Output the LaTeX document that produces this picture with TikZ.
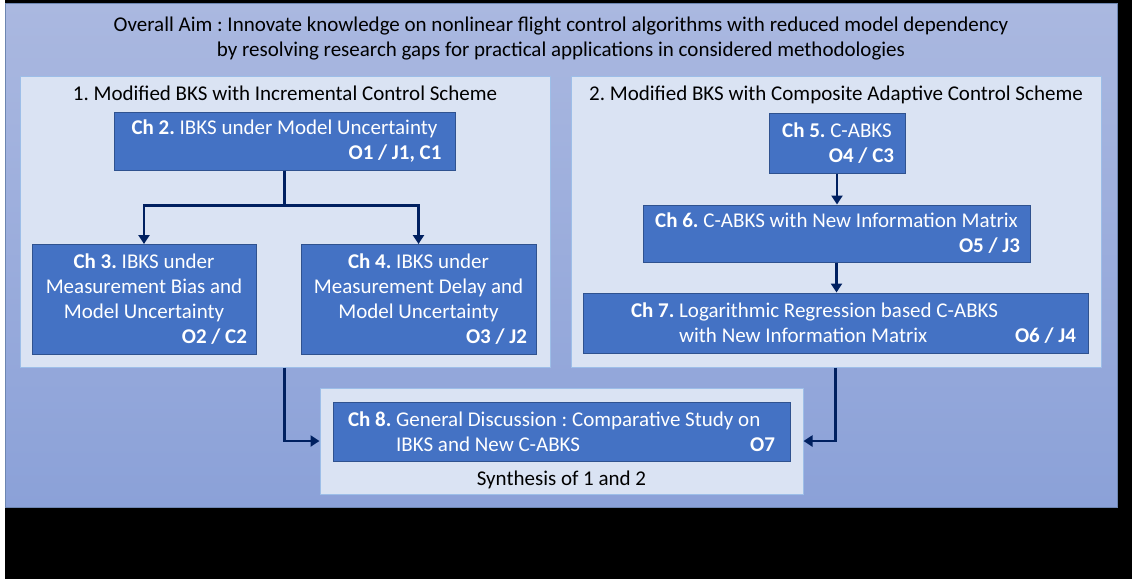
\documentclass[tikz,border=0pt]{standalone}
\usepackage{fontspec}
\setmainfont{Carlito}
\usepackage{tikz}
\usetikzlibrary{arrows.meta,positioning}
\definecolor{panelTop}{RGB}{170,184,224}
\definecolor{panelBot}{RGB}{139,161,216}
\definecolor{paleBox}{RGB}{218,227,243}
\definecolor{paleEdge}{RGB}{157,190,232}
\definecolor{chFill}{RGB}{68,114,196}
\definecolor{chEdge}{RGB}{47,82,143}
\definecolor{navy}{RGB}{0,32,96}
\newcommand{\chno}[1]{\textbf{Ch #1.}}
\newcommand{\code}[2]{\makebox[#1][r]{\textbf{#2}}}
\frenchspacing

\begin{document}
\begin{tikzpicture}[x=1pt,y=-1pt,
    nodes={font=\fontsize{21}{25}\selectfont},
    group/.style={draw=paleEdge,fill=paleBox,line width=1pt,inner sep=0pt},
    chap/.style={draw=chEdge,fill=chFill,line width=1pt,text=white,align=center,inner sep=0pt},
    flow/.style={draw=navy,line width=2.6pt,-{Triangle[width=11pt,length=9pt]}}]
    \useasboundingbox (0,0) rectangle (1132,579);
    \fill[white] (0,0) rectangle (1132,579);
    \fill[black] (5,0) rectangle (1132,579);
    \shade[top color=panelTop,bottom color=panelBot,draw=chEdge!70,line width=0.8pt] (5,3) rectangle (1117,507);

    \node[align=center] (aim) at (561,39) {Overall Aim : Innovate knowledge on nonlinear flight control algorithms with reduced model dependency\\
        by resolving research gaps for practical applications in considered methodologies};

    \node[group,minimum width=530pt,minimum height=291pt] (incr) at (285,221.5) {};
    \node[group,minimum width=530pt,minimum height=291pt] (comp) at (836,221.5) {};
    \node[group,minimum width=483pt,minimum height=106pt] (synth) at (561.5,441) {};
    \node[below=7pt of incr.north] (incrtitle) {1. Modified BKS with Incremental Control Scheme};
    \node[below=7pt of comp.north] (comptitle) {2. Modified BKS with Composite Adaptive Control Scheme};

    \node[chap,minimum width=341pt,minimum height=58pt] (ch2) at (284.5,141)
        {\chno{2} IBKS under Model Uncertainty\\ \code{314pt}{O1 / J1, C1}};
    \node[chap,minimum width=224pt,minimum height=110pt] (ch3) at (144,299.5)
        {\chno{3} IBKS under\\ Measurement Bias and\\ Model Uncertainty\\ \code{206pt}{O2 / C2}};
    \node[chap,minimum width=235pt,minimum height=110pt] (ch4) at (418.5,299.5)
        {\chno{4} IBKS under\\ Measurement Delay and\\ Model Uncertainty\\ \code{217pt}{O3 / J2}};

    \node[chap,minimum width=136pt,minimum height=60pt] (ch5) at (837,143)
        {\chno{5} C-ABKS\\ \code{114pt}{O4 / C3}};
    \node[chap,minimum width=387pt,minimum height=57pt] (ch6) at (836.5,233.5)
        {\chno{6} C-ABKS with New Information Matrix\\ \code{367pt}{O5 / J3}};
    \node[chap,align=left,minimum width=505pt,minimum height=60pt] (ch7) at (835.5,323)
        {\hspace*{36pt}\chno{7} Logarithmic Regression based C-ABKS\\
         \hspace*{36pt}\makebox[445pt][l]{\phantom{\chno{7} }with New Information Matrix\hfill\textbf{O6 / J4}}};

    \node[chap,align=left,minimum width=457pt,minimum height=59pt] (ch8) at (561.5,431.5)
        {\chno{8} General Discussion : Comparative Study on\\
         \makebox[427pt][l]{\phantom{\chno{8} }IBKS and New C-ABKS\hfill\textbf{O7}}};
    \node[below=6pt of ch8] (synthtitle) {Synthesis of 1 and 2};

    \draw[flow] (ch2.south) -- ++(0,35) -| (ch3.north);
    \draw[flow] (ch2.south) -- ++(0,35) -| (ch4.north);
    \draw[flow] (ch5.south) -- (ch5.south |- ch6.north);
    \draw[flow] (ch6.south) -- (ch6.south |- ch7.north);
    \draw[flow] (incr.south -| ch2.south) |- (synth.west);
    \draw[flow] (comp.south -| ch7.south) |- (synth.east);
\end{tikzpicture}
\end{document}
